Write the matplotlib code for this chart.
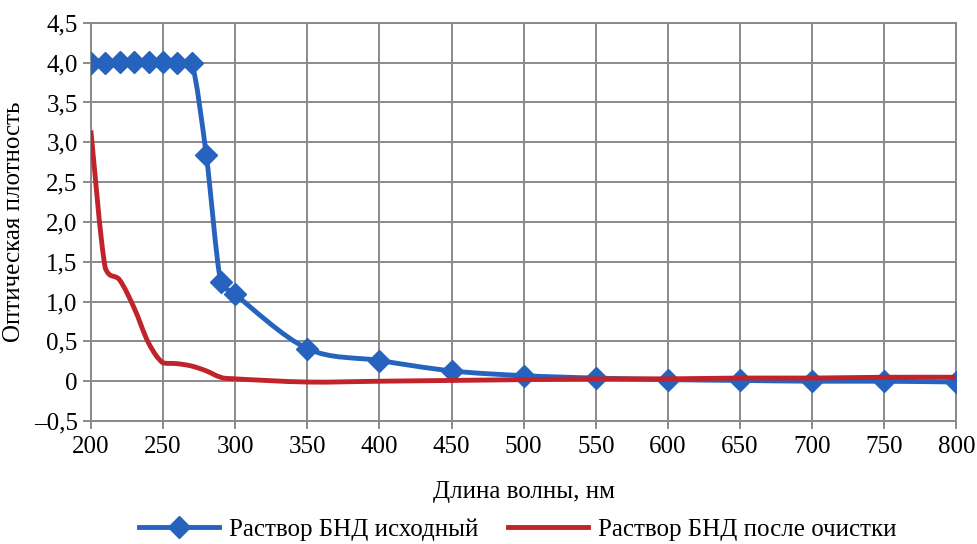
import numpy as np
import matplotlib
matplotlib.use('Agg')
from matplotlib import pyplot as plt
from matplotlib import font_manager as fm
from matplotlib.path import Path
from matplotlib.patches import PathPatch
from matplotlib.lines import Line2D
from matplotlib.ticker import FuncFormatter

wavelength = [200, 210, 220, 230, 240, 250, 260, 270, 280, 290, 300,
              350, 400, 450, 500, 550, 600, 650, 700, 750, 800]
initial = [4.0, 3.99, 4.01, 4.01, 4.01, 4.01, 4.0, 3.99, 2.84, 1.25, 1.09,
           0.41, 0.26, 0.13, 0.07, 0.04, 0.02, 0.01, 0.0, 0.0, -0.01]
purified = [3.15, 1.42, 1.27, 0.92, 0.48, 0.23, 0.22, 0.19, 0.13, 0.05, 0.03,
            -0.01, 0.0, 0.01, 0.02, 0.03, 0.03, 0.04, 0.04, 0.05, 0.05]

label_initial = 'Раствор БНД исходный'
label_purified = 'Раствор БНД после очистки'

blue = '#2563bf'
red = '#c0232a'


def smooth_path(x, y):
    # bezier through the points, like a spreadsheet "smoothed line"
    x = np.asarray(x, float)
    y = np.asarray(y, float)
    verts = [(x[0], y[0])]
    codes = [Path.MOVETO]
    n = len(x)
    for i in range(n - 1):
        x0, y0 = (x[i - 1], y[i - 1]) if i > 0 else (x[i], y[i])
        x3, y3 = (x[i + 2], y[i + 2]) if i + 2 < n else (x[i + 1], y[i + 1])
        c1y = y[i] + (y[i + 1] - y0) / 6
        c2y = y[i + 1] - (y3 - y[i]) / 6
        # keep the curve from overshooting between two points
        lo, hi = sorted((y[i], y[i + 1]))
        if (y[i + 1] - y0) * (y[i + 1] - y[i]) > 0:
            c1y = min(max(c1y, lo), hi)
        if (y3 - y[i]) * (y[i + 1] - y[i]) > 0:
            c2y = min(max(c2y, lo), hi)
        c1 = (x[i] + (x[i + 1] - x0) / 6, c1y)
        c2 = (x[i + 1] - (x3 - x[i]) / 6, c2y)
        verts += [c1, c2, (x[i + 1], y[i + 1])]
        codes += [Path.CURVE4] * 3
    return Path(verts, codes)


serif_file = fm.findfont(fm.FontProperties(family='Liberation Serif'))
fp = fm.FontProperties(fname=serif_file, size=18)

fig = plt.figure(figsize=(9.77, 5.44), dpi=100)
ax = fig.add_axes([0.093, 0.226, 0.886, 0.732])

ax.add_patch(PathPatch(smooth_path(wavelength, initial), fill=False,
                       edgecolor=blue, lw=3.5, zorder=3))
ax.plot(wavelength, initial, ls='none', marker='D', ms=11, color=blue, zorder=4)
ax.add_patch(PathPatch(smooth_path(wavelength, purified), fill=False,
                       edgecolor=red, lw=3.5, zorder=5))

ax.set_xlim(200, 800)
ax.set_ylim(-0.5, 4.5)
ax.set_xticks(np.arange(200, 801, 50))
ax.set_yticks(np.arange(-0.5, 4.51, 0.5))


def yfmt(v, pos):
    if abs(v) < 1e-9:
        return '0'
    s = f'{abs(v):.1f}'.replace('.', ',')
    return ('\u2013' if v < 0 else '') + s


ax.yaxis.set_major_formatter(FuncFormatter(yfmt))
ax.grid(True, color='#8a8a8a', lw=1.4)
for sp in ax.spines.values():
    sp.set_color('#8a8a8a')
    sp.set_linewidth(1.4)
ax.tick_params(axis='both', colors='#8a8a8a', labelcolor='black',
               length=6, width=1.4)
ax.tick_params(axis='x', pad=5)
ax.set_axisbelow(True)
for lbl in ax.get_xticklabels() + ax.get_yticklabels():
    lbl.set_fontproperties(fp)

ax.set_xlabel('Длина волны, нм', fontproperties=fp, labelpad=16)
ax.set_ylabel('Оптическая плотность', fontproperties=fp, labelpad=6)

handles = [Line2D([], [], color=blue, lw=3.5, marker='D', ms=11),
           Line2D([], [], color=red, lw=3.5)]
fig.legend(handles, [label_initial, label_purified], loc='lower center',
           bbox_to_anchor=(0.53, -0.035), ncol=2, frameon=False, prop=fp,
           handlelength=3.2, columnspacing=1.2, handletextpad=0.4)

fig.savefig('out.png', dpi=100)
